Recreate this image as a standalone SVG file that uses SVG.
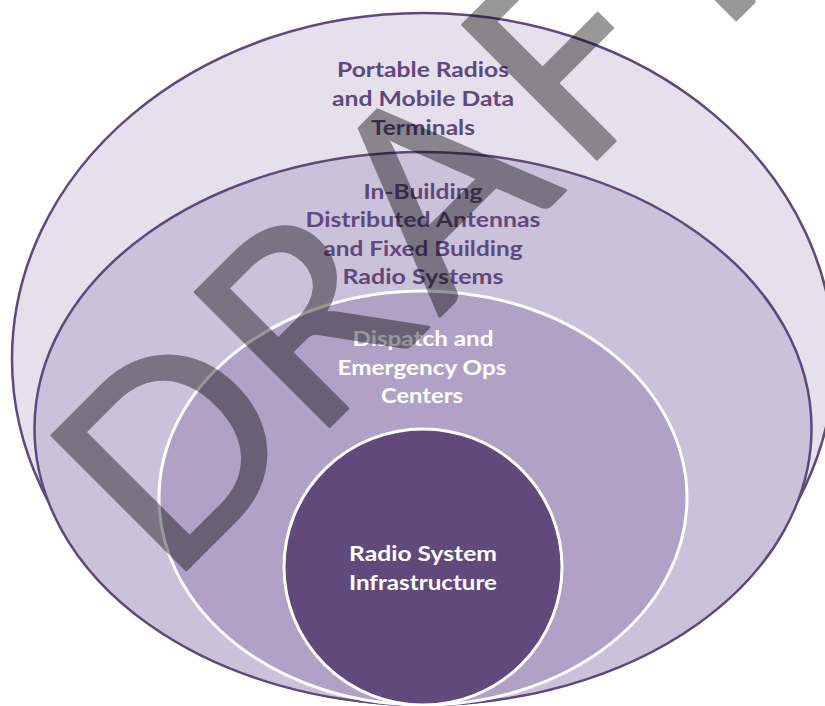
<svg xmlns="http://www.w3.org/2000/svg" width="825" height="706" viewBox="0 0 825 706">
<style>
.lbl{font-family:Lato,"Open Sans","Liberation Sans",sans-serif;font-weight:700;font-size:21.5px;text-anchor:middle}
.dark{fill:#5f497a}
.light{fill:#ffffff}
.wm{font-family:Lato,"Open Sans","Liberation Sans",sans-serif;font-weight:400;font-size:265px;text-anchor:middle;fill:#000;stroke:#000;stroke-width:3;stroke-linejoin:round}
</style>
<rect width="825" height="706" fill="#ffffff"/>
<g id="node-portable">
<ellipse cx="423" cy="359" rx="411" ry="346" fill="#e5e0ec" stroke="#5f497a" stroke-width="2.5"/>
<text class="lbl dark" x="423" y="77" textLength="172" lengthAdjust="spacingAndGlyphs">Portable Radios</text>
<text class="lbl dark" x="423" y="106" textLength="182" lengthAdjust="spacingAndGlyphs">and Mobile Data</text>
<text class="lbl dark" x="423" y="135" textLength="104" lengthAdjust="spacingAndGlyphs">Terminals</text>
</g>
<g id="node-inbuilding">
<ellipse cx="423" cy="428.5" rx="388.5" ry="276.5" fill="#ccc1da" stroke="#5f497a" stroke-width="2.5"/>
<text class="lbl dark" x="423" y="198.5" textLength="119" lengthAdjust="spacingAndGlyphs">In-Building</text>
<text class="lbl dark" x="423" y="227" textLength="235" lengthAdjust="spacingAndGlyphs">Distributed Antennas</text>
<text class="lbl dark" x="423" y="255.5" textLength="199" lengthAdjust="spacingAndGlyphs">and Fixed Building</text>
<text class="lbl dark" x="423" y="284" textLength="161" lengthAdjust="spacingAndGlyphs">Radio Systems</text>
</g>
<g id="node-dispatch">
<ellipse cx="423" cy="498" rx="264" ry="207" fill="#b2a1c7" stroke="#ffffff" stroke-width="3"/>
<text class="lbl light" x="423" y="346" textLength="141" lengthAdjust="spacingAndGlyphs">Dispatch and</text>
<text class="lbl light" x="422" y="374.5" textLength="169" lengthAdjust="spacingAndGlyphs">Emergency Ops</text>
<text class="lbl light" x="422" y="403" textLength="82" lengthAdjust="spacingAndGlyphs">Centers</text>
</g>
<g id="node-infrastructure">
<ellipse cx="423" cy="567" rx="139" ry="138" fill="#604a7b" stroke="#ffffff" stroke-width="3"/>
<text class="lbl light" x="423" y="561" textLength="148" lengthAdjust="spacingAndGlyphs">Radio System</text>
<text class="lbl light" x="423" y="589.5" textLength="148" lengthAdjust="spacingAndGlyphs">Infrastructure</text>
</g>
<g id="connectors"></g>
<g id="watermark" opacity="0.4" transform="translate(188 568) rotate(-45)">
<text class="wm" x="74" y="0">D</text>
<text class="wm" x="259" y="0">R</text>
<text class="wm" x="445" y="0">A</text>
<text class="wm" x="629" y="0">F</text>
<text class="wm" x="788" y="0">T</text>
</g>
</svg>
